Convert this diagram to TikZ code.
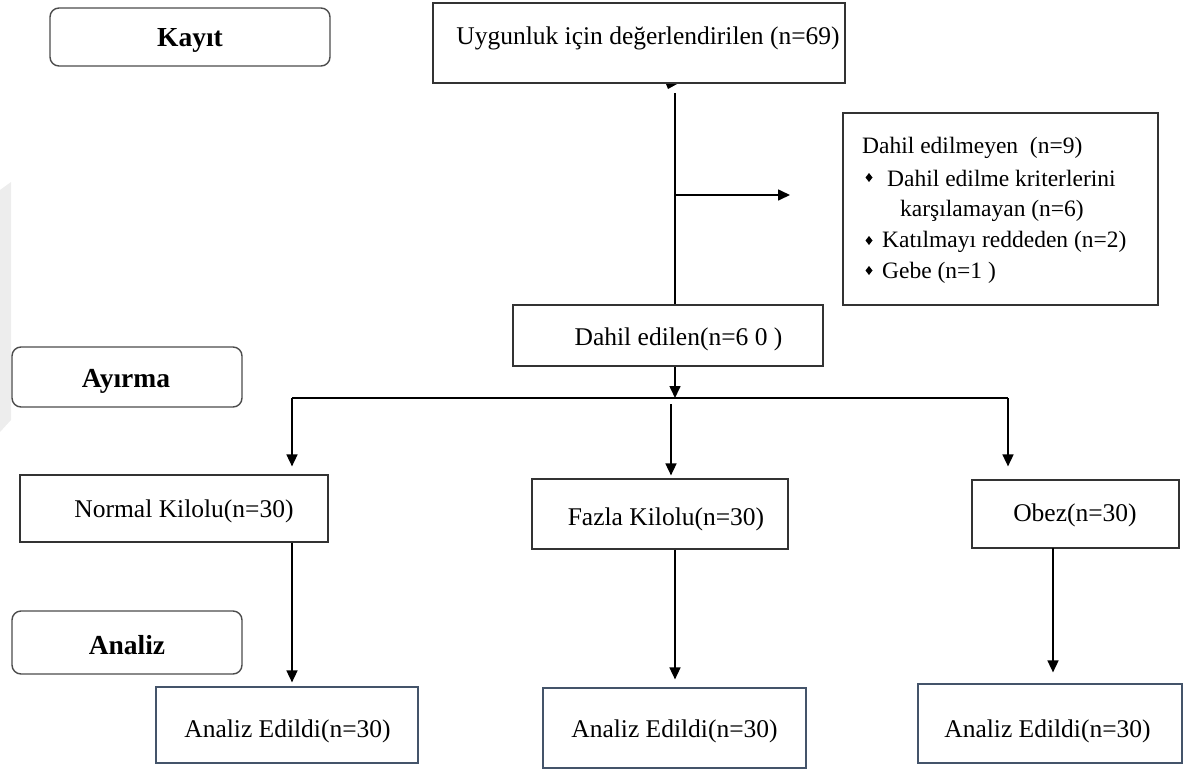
\documentclass[tikz,border=0pt]{standalone}
\usepackage{fontspec}
\setmainfont{Liberation Serif}
\usetikzlibrary{arrows.meta}
\begin{document}
\begin{tikzpicture}[x=1pt,y=-1pt,
  box/.style={draw=black!80, line width=1.2pt, rectangle, inner sep=0pt},
  bbox/.style={draw={rgb,255:red,68;green,84;blue,106}, line width=1.2pt, rectangle, inner sep=0pt},
  phase/.style={draw=black!70, line width=1.4pt, rectangle, rounded corners=9pt, inner sep=0pt},
  txt/.style={anchor=base, inner sep=0pt, font=\fontsize{25.5}{30}\selectfont},
  ptxt/.style={anchor=base, inner sep=0pt, font=\fontsize{27.5}{32}\selectfont\bfseries},
  etxt/.style={anchor=base west, inner sep=0pt, font=\fontsize{23.5}{28}\selectfont},
  conn/.style={line width=1.4pt},
  arr/.style={line width=1.6pt, -{Triangle[length=12pt,width=11pt]}},
  bul/.style={fill=black}]
\useasboundingbox (0,0) rectangle (1202,774);
% faint watermark strip at the left edge
\fill[black!7] (0,190) -- (11,182) -- (11,420) -- (0,432) -- cycle;

% phase labels
\node[phase, minimum width=280pt, minimum height=58pt] (kayit) at (190,37) {};
\node[ptxt] (kayitT) at (190,46) {Kayıt};
\node[phase, minimum width=230pt, minimum height=60pt] (ayirma) at (127,377) {};
\node[ptxt] (ayirmaT) at (126,387) {Ayırma};
\node[phase, minimum width=230pt, minimum height=63pt] (analiz) at (127,642.5) {};
\node[ptxt] (analizT) at (127,654) {Analiz};

% main boxes
\node[box, minimum width=412pt, minimum height=80pt] (top) at (639,43) {};
\node[txt] (topT) at (648,44) {Uygunluk için değerlendirilen (n=69)};
\node[box, minimum width=315pt, minimum height=192pt] (excl) at (1000.5,209) {};
\node[etxt] (e1) at (862,153) {Dahil edilmeyen~ (n=9)};
\node[etxt] (e2) at (887,186) {Dahil edilme kriterlerini};
\node[etxt] (e3) at (900,216) {karşılamayan (n=6)};
\node[etxt] (e4) at (882,247) {Katılmayı reddeden (n=2)};
\node[etxt] (e5) at (882,278) {Gebe (n=1 )};
\fill[bul] (869,173) -- (872.5,177.5) -- (869,182) -- (865.5,177.5) -- cycle;
\fill[bul] (869,236) -- (872.5,240.5) -- (869,245) -- (865.5,240.5) -- cycle;
\fill[bul] (869,266) -- (872.5,270.5) -- (869,275) -- (865.5,270.5) -- cycle;

\node[box, minimum width=310pt, minimum height=61pt] (dahil) at (668,335.5) {};
\node[txt] (dahilT) at (678.5,345) {Dahil edilen(n=6 0 )};

\node[box, minimum width=308pt, minimum height=67pt] (normal) at (174,508.5) {};
\node[txt] (normalT) at (184,517) {Normal Kilolu(n=30)};
\node[box, minimum width=256pt, minimum height=70pt] (fazla) at (660,514) {};
\node[txt] (fazlaT) at (666,525) {Fazla Kilolu(n=30)};
\node[box, minimum width=207pt, minimum height=68pt] (obez) at (1075.5,514) {};
\node[txt] (obezT) at (1075,521) {Obez(n=30)};

\node[bbox, minimum width=262pt, minimum height=76pt] (a1) at (287,725) {};
\node[txt] (a1T) at (287.5,737) {Analiz Edildi(n=30)};
\node[bbox, minimum width=263pt, minimum height=80pt] (a2) at (674.5,728) {};
\node[txt] (a2T) at (674.5,737) {Analiz Edildi(n=30)};
\node[bbox, minimum width=264pt, minimum height=79pt] (a3) at (1050,723.5) {};
\node[txt] (a3T) at (1047.5,737) {Analiz Edildi(n=30)};

% connectors
\coordinate (v0) at (675,93);
\coordinate (vb) at (675,195);
\coordinate (ex) at (790,195);
\coordinate (hl) at (292,398);
\coordinate (hr) at (1008,398);
\coordinate (m0) at (671,404);
\fill (666,84) -- (677,84) -- (668,89) -- cycle;
\draw[conn] (v0) -- (v0 |- dahil.north);
\draw[arr] (vb) -- (ex);
\draw[arr] (dahil.south -| v0) -- (v0 |- hl);
\draw[conn] (hl) -- (hr);
\draw[arr, shorten >=8pt] (hl) -- (hl |- normal.north);
\draw[arr, shorten >=3pt] (m0) -- (m0 |- fazla.north);
\draw[arr, shorten >=13pt] (hr) -- (hr |- obez.north);
\draw[arr, shorten >=4pt] (normal.south -| hl) -- (hl |- a1.north);
\draw[arr, shorten >=8pt] (fazla.south -| v0) -- (v0 |- a2.north);
\coordinate (r0) at (1053,548);
\draw[arr, shorten >=11pt] (r0) -- (r0 |- a3.north);
\end{tikzpicture}
\end{document}
